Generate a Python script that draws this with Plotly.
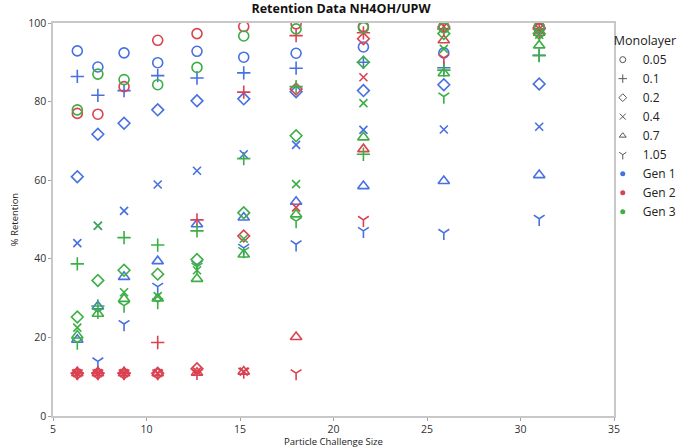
import plotly.graph_objects as go

# ---------------- data ----------------
sizes = [6.3, 7.4, 8.8, 10.6, 12.7, 15.2, 18.0, 21.6, 25.9, 31.0]
monolayers = ["0.05", "0.1", "0.2", "0.4", "0.7", "1.05"]
gens = ["Gen 1", "Gen 2", "Gen 3"]

# Gen 1 (blue)
g1_005 = [92.9, 88.8, 92.4, 89.9, 92.8, 91.3, 92.3, 93.9, 92.4, 98.5]
g1_01 = [86.4, 81.6, 82.8, 86.6, 86.0, 87.3, 88.5, 90.0, 88.6, 91.8]
g1_02 = [60.9, 71.7, 74.5, 77.9, 80.2, 80.7, 82.5, 82.8, 84.3, 84.5]
g1_04 = [44.0, 48.4, 52.2, 58.9, 62.4, 66.6, 69.0, 72.8, 72.9, 73.6]
g1_07 = [19.4, 27.9, 35.4, 39.4, 48.8, 50.5, 54.5, 58.5, 59.8, 61.3]
g1_105 = [None, 13.9, 23.4, 32.9, 38.5, 42.8, 43.7, 47.1, 46.6, 50.2]

# Gen 2 (red)
g2_005 = [77.0, 76.8, 83.8, 95.6, 97.3, 99.1, 99.8, 99.1, 99.1, 99.0]
g2_01 = [10.9, 10.9, 10.9, 18.7, 49.9, 82.4, 96.8, 97.5, 98.5, 98.5]
g2_02 = [10.9, 10.9, 10.9, 10.9, 12.0, 45.8, 83.2, 96.0, 99.0, 98.8]
g2_04 = [10.9, 10.9, 10.9, 10.9, 11.3, 11.3, 53.1, 86.2, 99.1, 98.5]
g2_07 = [10.9, 10.9, 10.9, 10.9, 11.0, 11.3, 20.1, 67.9, 95.6, 97.5]
g2_105 = [10.9, 10.9, 10.9, 10.9, 11.0, 11.3, 10.9, 49.9, 91.1, 97.8]

# Gen 3 (green)
g3_005 = [77.9, 87.0, 85.6, 84.3, 88.7, 96.7, 98.5, 98.8, 98.8, 99.0]
g3_01 = [38.7, 28.0, 45.4, 43.5, 47.1, 65.5, 83.8, 66.6, 88.0, 91.7]
g3_02 = [25.2, 34.5, 37.1, 36.1, 39.8, 51.7, 71.3, 90.0, 97.3, 97.3]
g3_04 = [22.5, 48.4, 31.5, 30.5, 37.1, 45.1, 59.0, 79.6, 93.4, 97.0]
g3_07 = [20.5, 26.0, 29.8, 29.9, 34.9, 41.1, 51.3, 70.9, 87.2, 94.3]
g3_105 = [18.7, 26.5, 28.1, 29.0, 38.0, 42.0, 49.6, None, 81.3, None]

series = {
    "Gen 1": [g1_005, g1_01, g1_02, g1_04, g1_07, g1_105],
    "Gen 2": [g2_005, g2_01, g2_02, g2_04, g2_07, g2_105],
    "Gen 3": [g3_005, g3_01, g3_02, g3_04, g3_07, g3_105],
}

# ---------------- styles ----------------
gen_colors = {"Gen 1": "#4771E0", "Gen 2": "#DB4251", "Gen 3": "#3DAE46"}
symbols = ["circle-open", "cross-thin-open", "diamond-open", "x-thin-open",
           "triangle-up-open", "y-down-open"]
msizes = [10, 9.5, 9, 8, 10, 9]

fig = go.Figure()

for gname in gens:
    for mi, ys in enumerate(series[gname]):
        fig.add_trace(go.Scatter(
            x=sizes, y=ys, mode="markers", showlegend=False,
            marker=dict(symbol=symbols[mi], size=msizes[mi], color=gen_colors[gname],
                        line=dict(color=gen_colors[gname], width=1.6)),
            hoverinfo="x+y",
        ))

# legend entries
for mi, m in enumerate(monolayers):
    fig.add_trace(go.Scatter(
        x=[None], y=[None], mode="markers", name=m, showlegend=True,
        marker=dict(symbol=symbols[mi], size=6, color="#555555",
                    line=dict(color="#555555", width=1)),
    ))
for gname in gens:
    fig.add_trace(go.Scatter(
        x=[None], y=[None], mode="markers", name=gname, showlegend=True,
        marker=dict(symbol="circle", size=5, color=gen_colors[gname]),
    ))

axis_common = dict(
    showline=True, linecolor="#C8C8C8", linewidth=1.5, mirror=True,
    ticks="outside", ticklen=3, tickcolor="#A0A0A0", tickwidth=1,
    showgrid=False, zeroline=False,
    tickfont=dict(family="Open Sans", size=10.5, color="#333333"),
)

fig.update_layout(
    width=682, height=448,
    margin=dict(l=53, r=68, t=23, b=32, autoexpand=False),
    paper_bgcolor="white", plot_bgcolor="white",
    title=dict(text="<b>Retention Data NH4OH/UPW</b>", x=0.5, xanchor="center",
               y=0.99, yanchor="top",
               font=dict(family="Open Sans", size=12.5, color="#111111")),
    xaxis=dict(range=[5, 35], tickvals=[5, 10, 15, 20, 25, 30, 35],
               title=dict(text="Particle Challenge Size", standoff=0,
                          font=dict(family="Open Sans", size=9.5, color="#222222")),
               **axis_common),
    yaxis=dict(range=[0, 100], tickvals=[0, 20, 40, 60, 80, 100],
               title=dict(text="% Retention", standoff=8,
                          font=dict(family="Open Sans", size=9.5, color="#222222")),
               **axis_common),
    legend=dict(
        title=dict(text="Monolayer", font=dict(family="Open Sans", size=12.5, color="#222222")),
        x=0.996, xanchor="left", y=0.985, yanchor="top",
        font=dict(family="Open Sans", size=12, color="#222222"),
        itemwidth=30, tracegroupgap=0, bgcolor="rgba(0,0,0,0)",
        indentation=-9,
    ),
)

fig.write_html("out.html")
